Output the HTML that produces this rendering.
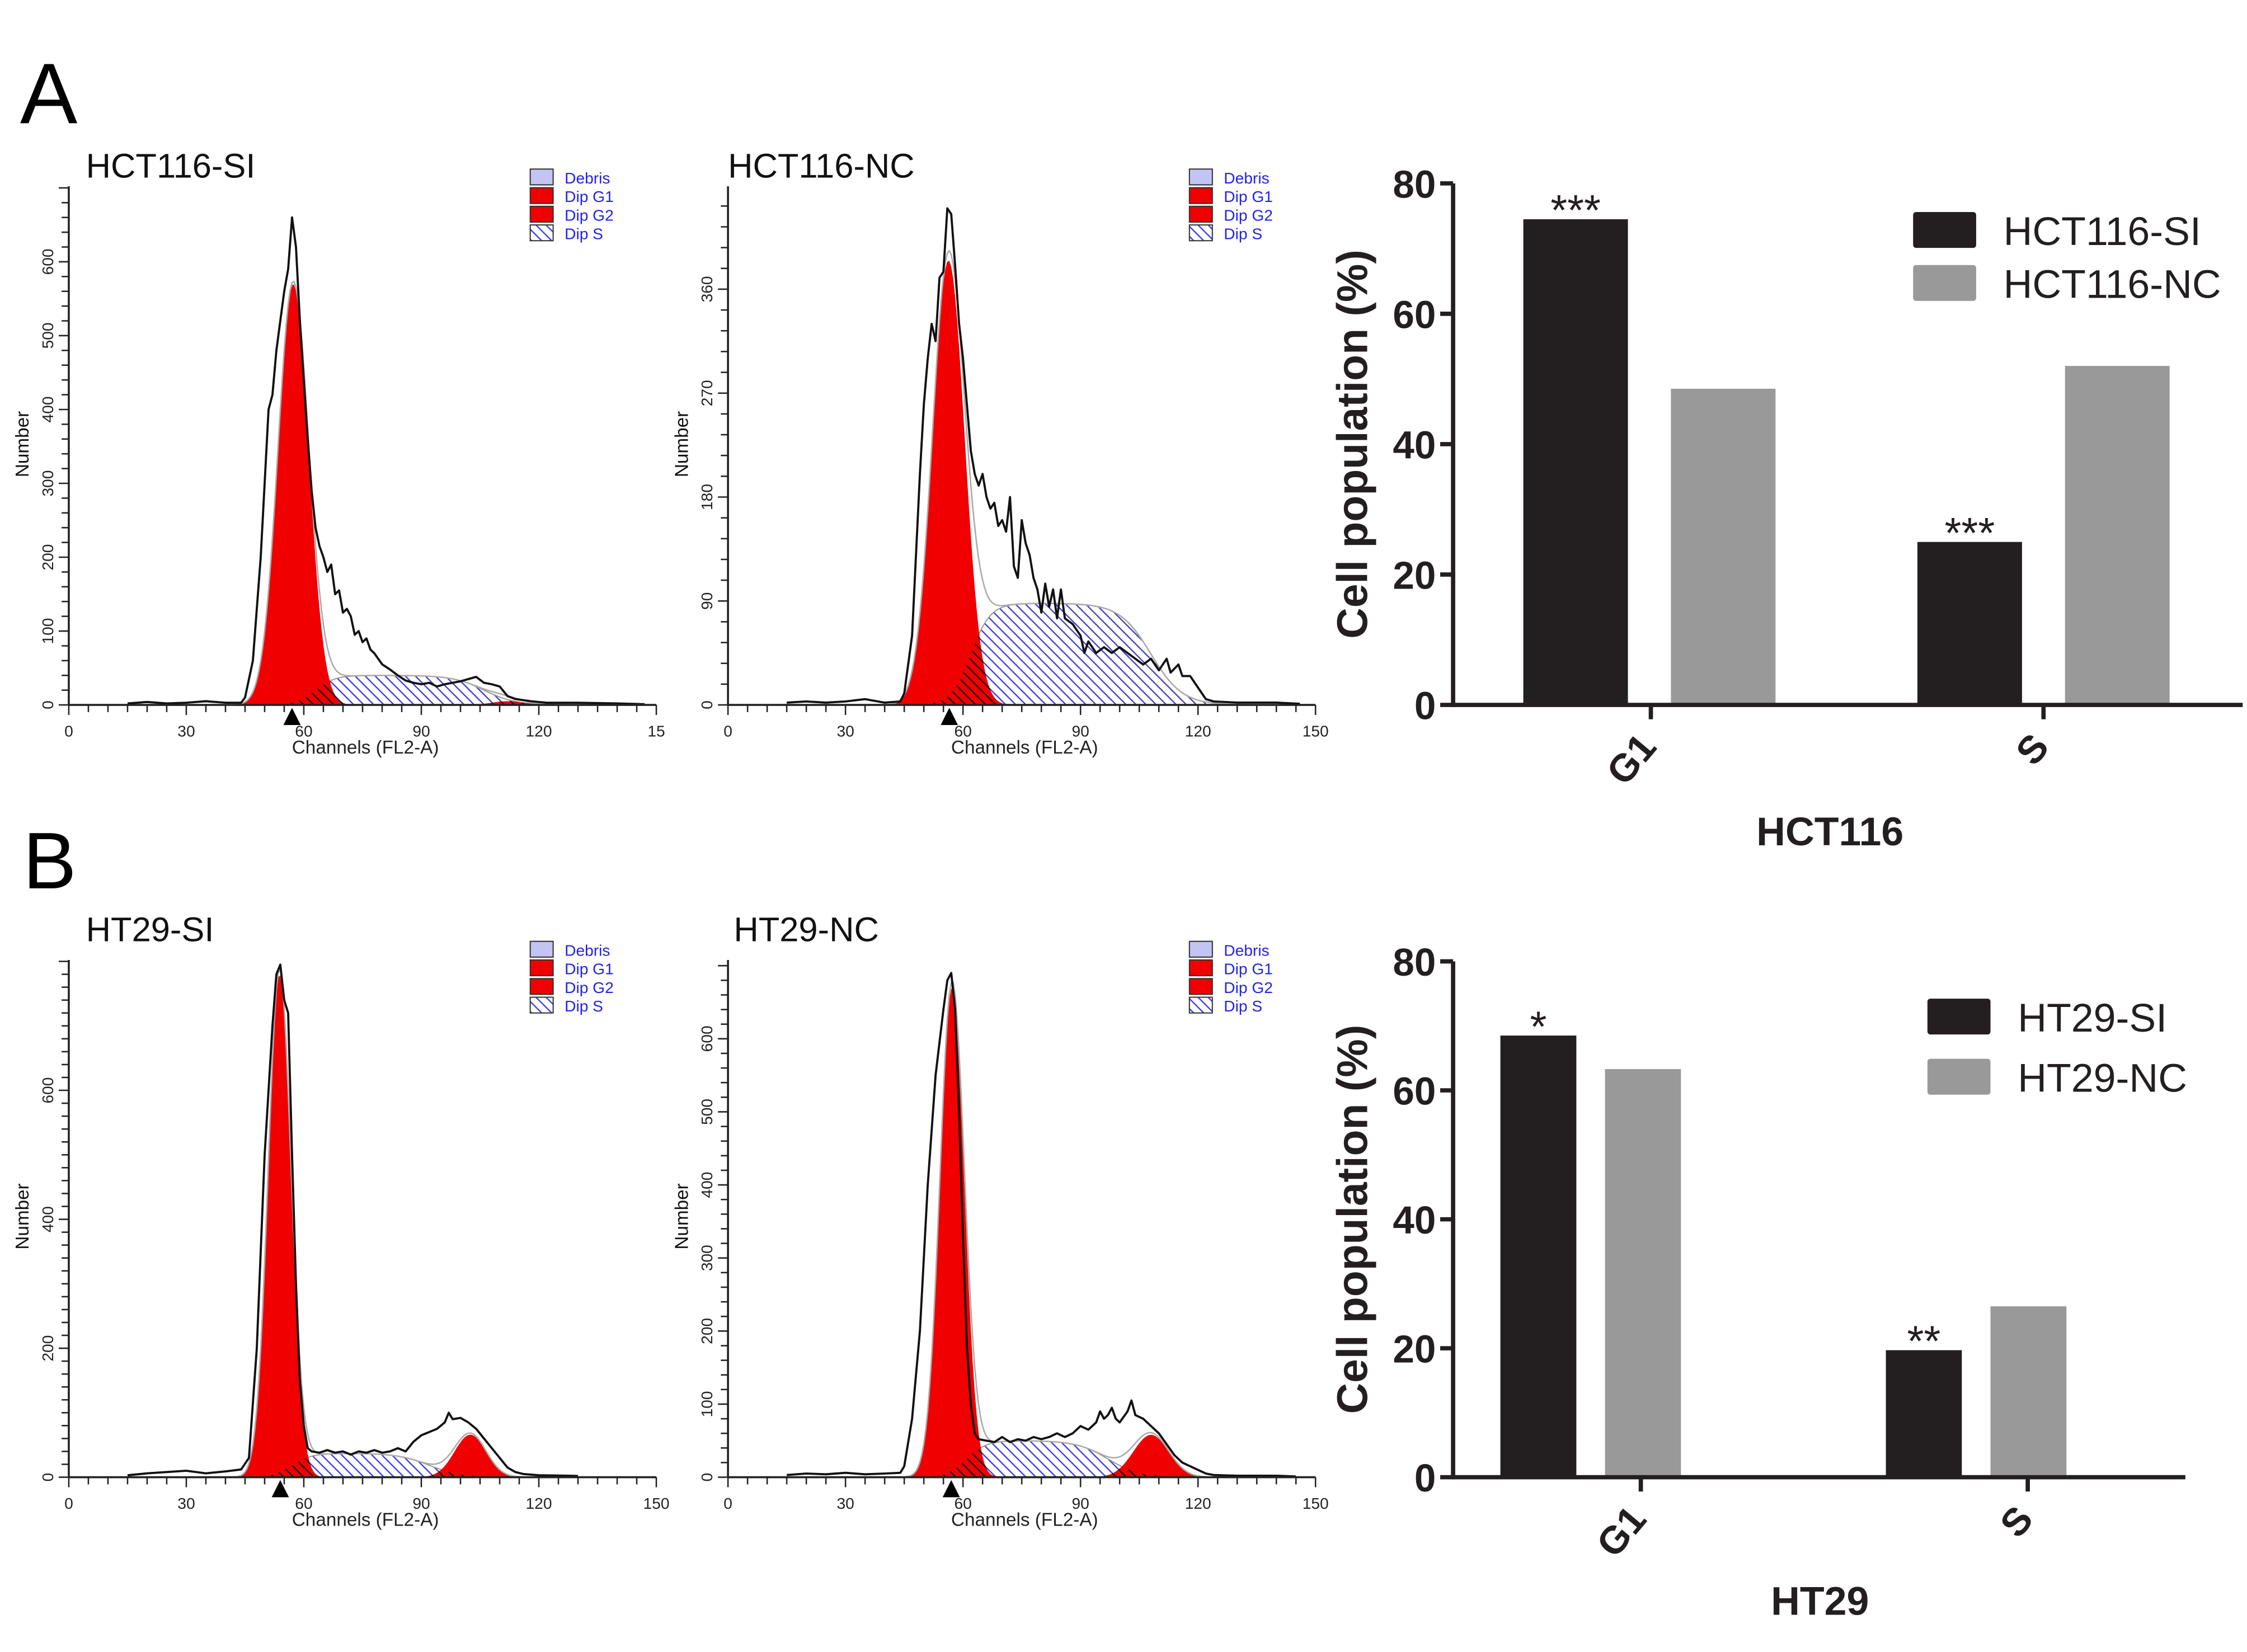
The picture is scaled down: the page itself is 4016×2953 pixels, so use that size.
<!DOCTYPE html>
<html><head><meta charset="utf-8"><style>
html,body{margin:0;padding:0;background:#fff;}
svg{display:block;}
text{font-family:"Liberation Sans",Arial,sans-serif;}
</style></head><body>
<svg id="fig" width="4016" height="2953" viewBox="0 0 1568 1153" preserveAspectRatio="none" xmlns="http://www.w3.org/2000/svg">
<defs>
<pattern id="hatchBlue" patternUnits="userSpaceOnUse" width="7" height="7"><path d="M0,0 L7,7 M-2,5 L2,9 M5,-2 L9,2" stroke="#3b3bd0" stroke-width="0.9"/></pattern>
<pattern id="hatchBlack" patternUnits="userSpaceOnUse" width="7" height="7"><path d="M0,0 L7,7 M-2,5 L2,9 M5,-2 L9,2" stroke="#111" stroke-width="0.9"/></pattern>
</defs>
<text x="14" y="86" font-size="60">A</text>
<text x="16" y="620" font-size="56">B</text>
</svg>
<script>
// ---------- histogram data ----------
const p1Ch=[15,20,25,30,35,40,44,45,47,49,50,51,52,53,54,55,56,57,58,59,60,61,62,63,64,65,66,67,68,69,70,71,72,73,74,75,76,77,78,80,82,84,86,88,90,92,94,96,98,100,102,104,106,108,110,112,114,118,122,130,140,147];
const p1Cnt=[2,4,2,3,5,3,3,10,60,200,300,400,420,480,520,560,590,660,620,520,440,360,290,240,215,200,180,190,150,155,125,130,120,95,100,85,90,75,70,55,48,40,33,30,28,30,25,28,30,32,35,38,30,28,25,12,8,5,3,3,2,1];
const p1G1=[57.3,3.9,570];
const p1S=[40,63,2.5,106,4];
const p1G2=[112,4,5];

const p2Ch=[15,20,25,30,35,40,44,45,47,49,50,51,52,53,54,55,56,57,58,59,60,61,62,63,64,65,66,67,68,69,70,71,72,73,74,75,76,77,78,79,80,81,82,83,84,85,86,88,90,91,92,94,96,98,100,102,104,106,108,110,112,113,115,116,118,120,122,124,130,140,146];
const p2Cnt=[2,3,2,3,5,2,3,10,60,200,260,300,330,315,370,375,430,425,380,330,300,260,220,200,190,200,180,170,175,155,160,150,180,120,110,160,140,130,110,100,80,105,85,100,75,100,75,70,60,45,55,45,50,45,50,45,40,35,40,30,40,28,35,25,25,15,5,3,2,2,1];
const p2G1=[56.3,4.1,385];
const p2S=[88,62,2.5,108,4];
const p2G2=[112,4,0];

const p3Ch=[15,20,25,30,35,40,44,46,48,50,52,53,54,55,56,57,58,59,60,61,62,64,66,68,70,72,74,76,78,80,82,84,86,88,90,92,94,96,97,98,100,102,104,106,108,110,112,114,116,120,130];
const p3Cnt=[3,6,8,10,6,9,12,30,200,500,700,780,795,740,720,500,300,150,80,45,40,38,42,38,40,35,40,38,42,38,40,45,40,55,65,70,75,85,100,90,92,85,75,60,45,30,15,8,5,3,2];
const p3G1=[53.8,2.9,780];
const p3S=[37,57,2.5,92,4];
const p3G2=[102.5,4,66];

const p4Ch=[15,20,25,30,35,40,44,45,47,49,51,53,55,56,57,58,59,60,61,62,63,64,66,68,70,72,74,76,78,80,82,84,86,88,90,92,94,95,96,97,98,99,100,102,103,104,106,108,110,112,114,116,118,120,122,124,130,140,145];
const p4Cnt=[3,5,4,6,4,5,6,15,80,200,400,550,640,680,690,640,500,330,180,100,60,52,50,48,55,48,52,50,55,52,55,60,55,60,70,65,75,90,80,85,95,80,75,90,105,85,80,70,60,45,30,20,15,10,5,3,2,2,1];
const p4G1=[57.2,3.1,670];
const p4S=[50,61,2.5,97,4];
const p4G2=[108,4.5,58];

// ---------- bar chart data ----------
const barCategories=["G1","S"];
const hctSI=[74.5,25];
const hctNC=[48.5,52];
const hctStars=["***","***"];
const htSI=[68.5,19.7];
const htNC=[63.3,26.5];
const htStars=["*","**"];
const barTicks=[0,20,40,60,80];

const NS="http://www.w3.org/2000/svg";
const svg=document.getElementById('fig');
function mk(tag,attrs,parent){const e=document.createElementNS(NS,tag);for(const k in attrs)e.setAttribute(k,attrs[k]);(parent||svg).appendChild(e);return e;}
function txt(x,y,s,attrs,parent){const t=mk('text',Object.assign({x:x,y:y},attrs),parent);t.textContent=s;return t;}

function gauss(c,p){return p[2]*Math.exp(-0.5*Math.pow((c-p[0])/p[1],2));}
function sfun(c,p){return p[0]/(1+Math.exp(-(c-p[1])/p[2]))/(1+Math.exp((c-p[3])/p[4]));}

function histogram(cfg){
  const g=mk('g',{});
  
  
  const X=c=>cfg.x0+(c/150)*(cfg.x1-cfg.x0);
  const Y=v=>cfg.y0-v*cfg.ppu;
  const areaPath=f=>{let d='M'+X(cfg.lo)+','+cfg.y0;for(let c=cfg.lo;c<=cfg.hi;c+=0.5){d+=' L'+X(c).toFixed(2)+','+Y(f(c)).toFixed(2);}return d+' L'+X(cfg.hi)+','+cfg.y0+' Z';};
  const sA=mk('path',{d:areaPath(c=>sfun(c,cfg.s)),fill:'url(#hatchBlue)',stroke:'#999','stroke-width':0.8},g);
  
  
  const g1d=areaPath(c=>gauss(c,cfg.g1)), g2d=areaPath(c=>gauss(c,cfg.g2));
  const r1=mk('path',{d:g1d,fill:'#f00000'},g);
  
  
  const r2=mk('path',{d:g2d,fill:'#f00000'},g);
  
  
  const cid='clip'+cfg.name;
  const cp=mk('clipPath',{id:cid},g);
  mk('path',{d:g1d},cp);mk('path',{d:g2d},cp);
  mk('path',{d:areaPath(c=>sfun(c,cfg.s)),fill:'url(#hatchBlack)','clip-path':'url(#'+cid+')'},g);
  let d='';for(let c=cfg.lo;c<=cfg.hi;c+=0.5){d+=(d?' L':'M')+X(c).toFixed(2)+','+Y(gauss(c,cfg.g1)+sfun(c,cfg.s)+gauss(c,cfg.g2)).toFixed(2);}
  const env=mk('path',{d:d,fill:'none',stroke:'#aaa','stroke-width':1},g);
  
  
  let rd='';cfg.ch.forEach((c,i)=>{rd+=(i?' L':'M')+X(c).toFixed(2)+','+Y(cfg.cnt[i]).toFixed(2);});
  const raw=mk('path',{d:rd,fill:'none',stroke:'#111','stroke-width':1.5,'stroke-linejoin':'round'},g);
  
  
  mk('line',{x1:cfg.x0,y1:cfg.y0,x2:cfg.x1,y2:cfg.y0,stroke:'#222','stroke-width':1.4},g);
  mk('line',{x1:cfg.x0,y1:cfg.y0,x2:cfg.x0,y2:cfg.ytop,stroke:'#222','stroke-width':1.4},g);
  for(let c=0;c<=150;c+=5){mk('line',{x1:X(c),y1:cfg.y0,x2:X(c),y2:cfg.y0+(c%30===0?7:5),stroke:'#222','stroke-width':1},g);}
  for(let c=0;c<=150;c+=30){const t=txt(X(c),cfg.y0+22,(c===150&&cfg.cut)?'15':String(c),{'font-size':11,'text-anchor':'middle',fill:'#222'},g);}
  for(let v=0;Y(v)>=cfg.ytop;v+=cfg.minor){mk('line',{x1:cfg.x0,y1:Y(v),x2:cfg.x0-(v%cfg.major===0?7:5),y2:Y(v),stroke:'#222','stroke-width':1},g);}
  for(let v=0;Y(v)>=cfg.ytop+10;v+=cfg.major){const t=txt(0,0,String(v),{'font-size':11,'text-anchor':'middle',fill:'#222',transform:'translate('+(cfg.x0-11)+','+Y(v)+') rotate(-90)'},g);}
  const yl=txt(0,0,'Number',{'font-size':13,'text-anchor':'middle',fill:'#111',transform:'translate('+(cfg.x0-28)+','+(cfg.y0-182)+') rotate(-90)'},g);
  
  
  const xl=txt((cfg.x0+cfg.x1)/2+2,cfg.y0+34,'Channels (FL2-A)',{'font-size':13,'text-anchor':'middle',fill:'#222'},g);
  
  
  const ti=txt(cfg.tx,cfg.ty,cfg.title,{'font-size':24,fill:'#111'},g);
  
  
  const m=cfg.marker;
  const tri=mk('path',{d:'M'+(X(m)-6)+','+(cfg.y0+14)+' L'+(X(m)+6)+','+(cfg.y0+14)+' L'+X(m)+','+(cfg.y0+2)+' Z',fill:'#000'},g);
  
  
  const lg=mk('g',{},g);
  
  
  const labels=['Debris','Dip G1','Dip G2','Dip S'],fills=['#c4c4f4','#f00000','#f00000','url(#hatchBlue)'];
  labels.forEach((s,i)=>{const yy=cfg.ly+i*13;mk('rect',{x:cfg.lx,y:yy,width:16,height:11,fill:fills[i],stroke:'#333','stroke-width':0.8},lg);const t=txt(cfg.lx+24,yy+10,s,{'font-size':11,fill:'#2222ee'},lg);});
}

histogram({name:'hct116-si-histogram',x0:48,x1:458,y0:492,ppu:0.5155,ytop:130,lo:30,hi:140,ch:p1Ch,cnt:p1Cnt,g1:p1G1,s:p1S,g2:p1G2,major:100,minor:20,title:'HCT116-SI',tx:60,ty:124,lx:370,ly:118,marker:57,cut:true});
histogram({name:'hct116-nc-histogram',x0:508,x1:918,y0:492,ppu:0.806,ytop:130,lo:30,hi:140,ch:p2Ch,cnt:p2Cnt,g1:p2G1,s:p2S,g2:p2G2,major:90,minor:18,title:'HCT116-NC',tx:508,ty:124,lx:830,ly:118,marker:56.5});
histogram({name:'ht29-si-histogram',x0:48,x1:458,y0:1031,ppu:0.45,ytop:670,lo:30,hi:140,ch:p3Ch,cnt:p3Cnt,g1:p3G1,s:p3S,g2:p3G2,major:200,minor:20,title:'HT29-SI',tx:60,ty:657,lx:370,ly:657,marker:54});
histogram({name:'ht29-nc-histogram',x0:508,x1:918,y0:1031,ppu:0.51,ytop:670,lo:30,hi:140,ch:p4Ch,cnt:p4Cnt,g1:p4G1,s:p4S,g2:p4G2,major:100,minor:20,title:'HT29-NC',tx:512,ty:657,lx:830,ly:657,marker:57});

function barChart(cfg){
  const g=mk('g',{});
  
  
  const Y=v=>cfg.y0-(v/80)*(cfg.y0-cfg.y80);
  barCategories.forEach((cat,i)=>{
    const xs=cfg.siX[i], xn=cfg.ncX[i];
    const b1=mk('rect',{x:xs,y:Y(cfg.si[i]),width:cfg.bw,height:cfg.y0-Y(cfg.si[i]),fill:'#231f20'},g);
    
    
    const b2=mk('rect',{x:xn,y:Y(cfg.nc[i]),width:cfg.bw,height:cfg.y0-Y(cfg.nc[i]),fill:'#999999'},g);
    
    
    const st=txt(xs+cfg.bw/2,Y(cfg.si[i])+4,cfg.stars[i],{'font-size':30,'text-anchor':'middle',fill:'#231f20'},g);
    
    
    const tx=cfg.tickX[i];
    mk('line',{x1:tx,y1:cfg.y0,x2:tx,y2:cfg.y0+10,stroke:'#231f20','stroke-width':3},g);
    const cl=txt(0,0,cat,{'font-size':27,'font-weight':'bold','text-anchor':'end',fill:'#231f20',transform:'translate('+(tx+5)+','+(cfg.y0+30)+') rotate(-50)'},g);
    
    
  });
  mk('line',{x1:cfg.x0,y1:cfg.y0,x2:cfg.xEnd,y2:cfg.y0,stroke:'#231f20','stroke-width':3},g);
  mk('line',{x1:cfg.x0,y1:cfg.y0+1.5,x2:cfg.x0,y2:cfg.y80,stroke:'#231f20','stroke-width':3},g);
  barTicks.forEach(v=>{mk('line',{x1:cfg.x0-9,y1:Y(v),x2:cfg.x0,y2:Y(v),stroke:'#231f20','stroke-width':3},g);
    const t=txt(cfg.x0-12,Y(v)+10,String(v),{'font-size':27,'font-weight':'bold','text-anchor':'end',fill:'#231f20'},g);});
  const yt=txt(0,0,'Cell population (%)',{'font-size':30,'font-weight':'bold','text-anchor':'middle',fill:'#231f20',transform:'translate(954,'+((cfg.y0+cfg.y80)/2)+') rotate(-90)'},g);
  
  
  const xt=txt(cfg.xtX,cfg.xtY,cfg.xtitle,{'font-size':28,'font-weight':'bold','text-anchor':'middle',fill:'#231f20'},g);
  
  
  const lg=mk('g',{},g);
  
  
  mk('rect',{x:cfg.lx,y:cfg.ly,width:44,height:25,rx:2,fill:'#231f20'},lg);
  mk('rect',{x:cfg.lx,y:cfg.ly+cfg.lgap,width:44,height:25,rx:2,fill:'#999999'},lg);
  const e1=txt(cfg.lx+63,cfg.ly+23,cfg.leg[0],{'font-size':28,fill:'#231f20'},lg);
  
  
  const e2=txt(cfg.lx+63,cfg.ly+cfg.lgap+23,cfg.leg[1],{'font-size':28,fill:'#231f20'},lg);
  
  
}
barChart({name:'hct116-bar-chart',x0:1014,y0:492,y80:128,xEnd:1565,si:hctSI,nc:hctNC,stars:hctStars,siX:[1063,1338],ncX:[1166,1441],bw:73,tickX:[1152,1426],xtitle:'HCT116',xtX:1277,xtY:590,lx:1335,ly:148,lgap:37,leg:['HCT116-SI','HCT116-NC']});
barChart({name:'ht29-bar-chart',x0:1014,y0:1031,y80:671,xEnd:1525,si:htSI,nc:htNC,stars:htStars,siX:[1047,1316],ncX:[1120,1389],bw:53,tickX:[1145,1415],xtitle:'HT29',xtX:1270,xtY:1127,lx:1345,ly:697,lgap:42,leg:['HT29-SI','HT29-NC']});
</script>
</body></html>
